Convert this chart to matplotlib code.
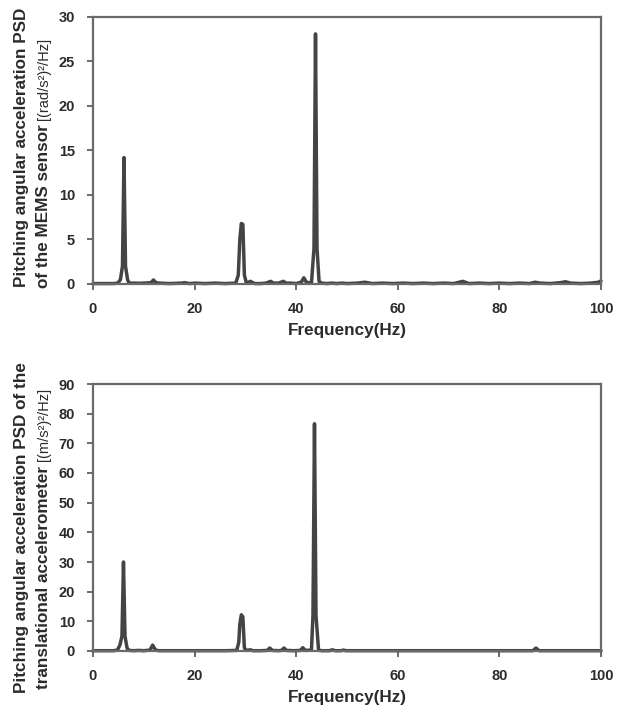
import matplotlib
matplotlib.use("Agg")
import matplotlib.pyplot as plt

plt.rcParams["font.family"] = ["Liberation Sans", "DejaVu Sans"]

# ---- PSD of the MEMS sensor (rad/s^2)^2/Hz ----
mems_freq = [0, 1, 2, 3, 4, 4.9, 5.4, 5.8, 6.1, 6.4, 6.8, 7.1, 8, 9, 10, 11.4, 11.9, 12.4,
             13, 15, 17.5, 18, 19, 20.1, 22, 24, 26, 28.1, 28.6, 28.9, 29.2, 29.5, 29.8,
             30.2, 31, 31.6, 32, 33, 34, 35, 35.5, 36.5, 37.5, 38, 39, 40, 41, 41.5, 42,
             43.0, 43.5, 43.8, 44.1, 44.5, 45, 46, 47, 48, 49, 50, 52, 53.5, 55, 57, 59,
             61, 63, 65, 67, 69, 71, 72.8, 74, 76, 78, 80, 82, 84, 86, 87, 88, 90, 92, 93,
             94, 96, 98, 99.5, 100]
mems_psd = [0.05, 0.05, 0.05, 0.05, 0.05, 0.1, 0.5, 2.0, 14.2, 2.0, 0.5, 0.1, 0.1, 0.08,
            0.1, 0.15, 0.45, 0.15, 0.1, 0.05, 0.1, 0.15, 0.05, 0.1, 0.05, 0.1, 0.05, 0.1,
            1.0, 5.0, 6.8, 6.7, 1.0, 0.1, 0.3, 0.1, 0.05, 0.05, 0.1, 0.3, 0.1, 0.1, 0.3,
            0.1, 0.1, 0.05, 0.2, 0.7, 0.2, 0.1, 4.0, 28.1, 4.0, 0.3, 0.1, 0.05, 0.1, 0.05,
            0.1, 0.05, 0.1, 0.2, 0.05, 0.1, 0.05, 0.1, 0.05, 0.1, 0.05, 0.1, 0.05, 0.3,
            0.05, 0.1, 0.05, 0.1, 0.05, 0.1, 0.05, 0.2, 0.1, 0.05, 0.15, 0.25, 0.1, 0.05,
            0.1, 0.2, 0.35]

# ---- PSD of the translational accelerometer (m/s^2)^2/Hz ----
acc_freq = [0, 1, 2, 3, 4, 4.8, 5.3, 5.7, 6.0, 6.3, 6.7, 7.1, 8, 9, 10, 11.2, 11.75, 12.3,
            13, 15, 17, 20, 23, 26, 28.3, 28.7, 28.9, 29.2, 29.5, 29.8, 30.2, 31, 31.5,
            33, 34.3, 34.8, 35.3, 36.5, 37.1, 37.6, 38.1, 39.5, 40.8, 41.3, 41.8, 43.0,
            43.3, 43.6, 43.9, 44.4, 45, 46.5, 47.1, 47.7, 48.8, 49.3, 49.8, 52, 56, 60,
            65, 70, 75, 80, 85, 86.6, 87.2, 87.8, 90, 95, 100]
acc_psd = [0.1, 0.1, 0.1, 0.1, 0.1, 0.3, 2.0, 5.0, 30.0, 5.0, 1.0, 0.2, 0.1, 0.2, 0.1,
           0.3, 2.0, 0.3, 0.1, 0.1, 0.1, 0.1, 0.1, 0.1, 0.2, 3.0, 9.0, 12.2, 11.5, 1.0,
           0.2, 0.4, 0.1, 0.1, 0.2, 1.0, 0.2, 0.1, 0.2, 1.0, 0.2, 0.1, 0.2, 1.1, 0.2, 0.3,
           12.0, 76.6, 12.0, 0.3, 0.1, 0.1, 0.4, 0.1, 0.1, 0.3, 0.1, 0.1, 0.1, 0.1, 0.1,
           0.1, 0.1, 0.1, 0.1, 0.1, 1.0, 0.1, 0.1, 0.1, 0.1]

x_ticks = [0, 20, 40, 60, 80, 100]
mems_yticks = [0, 5, 10, 15, 20, 25, 30]
acc_yticks = [0, 10, 20, 30, 40, 50, 60, 70, 80, 90]

LINE = "#444444"
SPINE = "#6a6a6a"
TEXT = "#2b2b2b"

W, H = 625, 711
fig = plt.figure(figsize=(W / 100, H / 100), dpi=100)


def px_box(left, top, right, bottom):
    return [left / W, 1 - bottom / H, (right - left) / W, (bottom - top) / H]


def style_axes(ax, yticks):
    ax.set_xlim(0, 100)
    ax.set_ylim(yticks[0], yticks[-1])
    ax.set_xticks(x_ticks)
    ax.set_yticks(yticks)
    for s in ax.spines.values():
        s.set_color(SPINE)
        s.set_linewidth(1.6)
    ax.tick_params(direction="out", length=4, width=1.4, color=SPINE,
                   labelsize=10.5, labelcolor=TEXT, pad=9)
    for lab in ax.get_xticklabels() + ax.get_yticklabels():
        lab.set_fontweight("bold")
    ax.set_xlabel("Frequency(Hz)", fontsize=12.3, fontweight="bold", color=TEXT,
                  labelpad=5)


def ylabel_two_lines(line1, line2_bold, line2_unit, center_y1, bottom_y2):
    fig.text(22 / W, 1 - center_y1 / H, line1, rotation=90, ha="center", va="center",
             fontsize=12.3, fontweight="bold", color=TEXT)
    t2 = fig.text(44 / W, 1 - bottom_y2 / H, line2_bold, rotation=90, ha="center",
                  va="bottom", fontsize=12.3, fontweight="bold", color=TEXT)
    plt.annotate(line2_unit, xy=(0.5, 1.0), xycoords=t2, rotation=90, ha="center",
                 va="bottom", fontsize=10.5, color=TEXT, annotation_clip=False)


ax1 = fig.add_axes(px_box(93, 17, 601, 284))
ax1.plot(mems_freq, mems_psd, color=LINE, lw=2.5, solid_joinstyle="round",
         solid_capstyle="round", clip_on=False)
style_axes(ax1, mems_yticks)

ax2 = fig.add_axes(px_box(93, 384, 601, 651))
ax2.plot(acc_freq, acc_psd, color=LINE, lw=2.5, solid_joinstyle="round",
         solid_capstyle="round", clip_on=False)
style_axes(ax2, acc_yticks)

ylabel_two_lines("Pitching angular acceleration PSD", "of the MEMS sensor ",
                 "[(rad/s²)²/Hz]", 147, 288)
ylabel_two_lines("Pitching angular acceleration PSD of the", "translational accelerometer ",
                 "[(m/s²)²/Hz]", 528, 689)

fig.savefig("out.png", dpi=100, facecolor="white")
